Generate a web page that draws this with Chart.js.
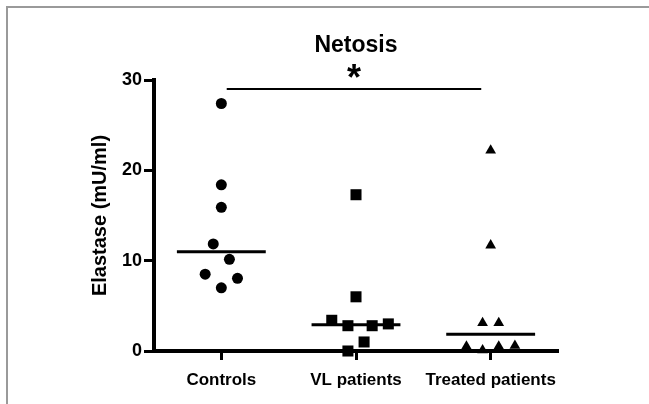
<!DOCTYPE html>
<html>
<head>
<meta charset="utf-8">
<script src="https://cdn.jsdelivr.net/npm/chart.js@4/dist/chart.umd.min.js"></script>
<style>
  body { margin: 0; background: #fff; }
  #wrap { position: relative; width: 649px; height: 404px; }
  #frame {
    position: absolute; left: 6px; top: 6px; right: 0; bottom: 0;
    border-top: 2px solid #9a9a9a; border-left: 2px solid #9a9a9a;
    pointer-events: none;
  }
</style>
</head>
<body>
<div id="wrap">
  <canvas id="netosisChart"></canvas>
  <div id="frame"></div>
</div>
<script>
// categorias e valores (Elastase mU/ml)
const categories = ['Controls', 'VL patients', 'Treated patients']
const controls = [27.4, 18.4, 15.9, 11.85, 10.15, 8.5, 8.05, 7.0]
const vlPatients = [17.3, 6.0, 3.4, 2.8, 2.8, 3.0, 1.0, 0]
const treatedPatients = [22.2, 11.7, 3.1, 3.1, 0.5, 0.1, 0.5, 0.6]

// deslocamento horizontal de cada ponto dentro da categoria (espalhamento)
const controlsSpread = [0, 0, 0, -0.06, 0.06, -0.12, 0.12, 0]
const vlSpread = [0, 0, -0.18, -0.06, 0.12, 0.24, 0.06, -0.06]
const treatedSpread = [0, 0, -0.06, 0.06, -0.18, -0.06, 0.06, 0.18]

// barra de significância (Controls x Treated)
const sigFrom = 0.04
const sigTo = 1.93
const sigValue = 29
const sigLabel = '*'

const yTicks = [0, 10, 20, 30]
const medianHalfWidth = 0.33

function median(arr) {
  const s = [...arr].sort((a, b) => a - b)
  const m = s.length / 2
  return s.length % 2 ? s[Math.floor(m)] : (s[m - 1] + s[m]) / 2
}

const groups = [
  { values: controls, spread: controlsSpread, style: 'circle', radius: 5.5 },
  { values: vlPatients, spread: vlSpread, style: 'rect', radius: 7.8 },
  { values: treatedPatients, spread: treatedSpread, style: 'triangle', radius: 6.2 }
]

const datasets = []
groups.forEach((g, idx) => {
  datasets.push({
    label: categories[idx],
    data: g.values.map((v, i) => ({ x: idx + g.spread[i], y: v })),
    pointStyle: g.style,
    pointRadius: g.radius,
    pointBackgroundColor: '#000',
    pointBorderWidth: 0,
    showLine: false,
    clip: false
  })
  // linha da mediana
  const med = median(g.values)
  datasets.push({
    data: [{ x: idx - medianHalfWidth, y: med }, { x: idx + medianHalfWidth, y: med }],
    showLine: true,
    borderColor: '#000',
    borderWidth: 3,
    pointRadius: 0,
    clip: false
  })
})

datasets.push({
  data: [{ x: sigFrom, y: sigValue }, { x: sigTo, y: sigValue }],
  showLine: true,
  borderColor: '#000',
  borderWidth: 2,
  pointRadius: 0,
  clip: false
})

// título e asterisco desenhados sobre a área do gráfico
const textPlugin = {
  id: 'textPlugin',
  afterDraw(chart) {
    const { ctx, chartArea, scales } = chart
    ctx.save()
    ctx.fillStyle = '#000'
    ctx.textAlign = 'center'
    ctx.textBaseline = 'middle'
    ctx.font = 'bold 23px "Liberation Sans", Arial, sans-serif'
    ctx.fillText('Netosis', (chartArea.left + chartArea.right) / 2, 46)

    ctx.font = 'bold 36px "Liberation Sans", Arial, sans-serif'
    ctx.textBaseline = 'alphabetic'
    const m = ctx.measureText(sigLabel)
    const cx = scales.x.getPixelForValue((sigFrom + sigTo) / 2)
    const cy = scales.y.getPixelForValue(sigValue) - 18
    ctx.fillText(sigLabel, cx, cy + (m.actualBoundingBoxAscent - m.actualBoundingBoxDescent) / 2)
    ctx.restore()
  }
}

const ctx = document.getElementById('netosisChart').getContext('2d')
let netosisChart = new Chart(ctx, {
  type: 'scatter',
  data: { datasets: datasets },
  plugins: [textPlugin],
  options: {
    responsive: true,
    maintainAspectRatio: false,
    animation: false,
    layout: { padding: { top: 80, right: 91, bottom: 0, left: 0 } },
    plugins: {
      legend: { display: false },
      tooltip: { enabled: false }
    },
    scales: {
      x: {
        type: 'linear',
        min: -0.5,
        max: 2.5,
        afterBuildTicks: (scale) => {
          scale.ticks = categories.map((c, i) => ({ value: i }))
        },
        afterFit: (scale) => { scale.height = 53 },
        ticks: {
          callback: (v) => categories[v],
          color: '#000',
          font: { family: '"Liberation Sans", Arial, sans-serif', size: 17, weight: 'bold' },
          padding: 10,
          maxRotation: 0,
          autoSkip: false
        },
        grid: { drawOnChartArea: false, tickLength: 9, tickWidth: 3, tickColor: '#000' },
        border: { display: true, color: '#000', width: 4 }
      },
      y: {
        min: 0,
        max: 30,
        afterBuildTicks: (scale) => {
          scale.ticks = yTicks.map(v => ({ value: v }))
        },
        afterFit: (scale) => { scale.width = 154 },
        ticks: {
          color: '#000',
          font: { family: '"Liberation Sans", Arial, sans-serif', size: 18, weight: 'bold' },
          padding: 2
        },
        grid: { drawOnChartArea: false, tickLength: 10, tickWidth: 3, tickColor: '#000' },
        border: { display: true, color: '#000', width: 4 },
        title: {
          display: true,
          text: 'Elastase (mU/ml)',
          color: '#000',
          font: { family: '"Liberation Sans", Arial, sans-serif', size: 20, weight: 'bold' },
          padding: { top: 88, bottom: 0 }
        }
      }
    }
  }
})
</script>
</body>
</html>
